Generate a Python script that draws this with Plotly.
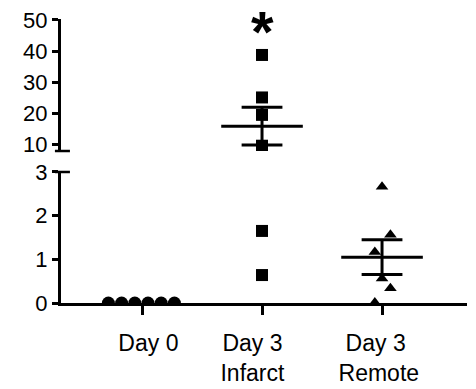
import numpy as np
import plotly.graph_objects as go

NB = "\u00a0"
categories = [NB * 2 + "Day 0",
              "Day 3" + NB * 3 + "<br>Infarct" + NB * 3,
              "Day 3" + NB * 2 + "<br>Remote" + NB]
day0_values = [0, 0, 0, 0, 0, 0]
infarct_values = [38.75, 25.1, 19.5, 9.6, 1.65, 0.64]
remote_values = [2.66, 1.56, 1.17, 0.56, 0.34, 0.01]
top_ticks = [10, 20, 30, 40, 50]
bottom_ticks = [0, 1, 2, 3]

# horizontal jitter (category units) used for point placement
day0_jitter = [-0.28, -0.17, -0.06, 0.05, 0.16, 0.27]
infarct_jitter = [0, 0, 0, 0, 0, 0]
remote_jitter = [0, 0.07, -0.06, 0, 0.07, -0.06]

BREAK = 3  # values above this go on the upper segment
FONT = "Liberation Sans, Arial, sans-serif"
MEAN_HALF = 0.34
CAP_HALF = 0.17

fig = go.Figure()


def add_points(idx, vals, jit, symbol, size):
    vals = np.asarray(vals, float)
    xs = idx + np.asarray(jit, float)
    low = vals <= BREAK
    hi = ~low
    if low.any():
        fig.add_trace(go.Scatter(x=xs[low], y=vals[low], mode="markers", yaxis="y",
                                 marker=dict(symbol=symbol, size=size, color="black"),
                                 cliponaxis=True, showlegend=False, hoverinfo="skip"))
    if hi.any():
        fig.add_trace(go.Scatter(x=xs[hi], y=vals[hi], mode="markers", yaxis="y2",
                                 marker=dict(symbol=symbol, size=size, color="black"),
                                 cliponaxis=True, showlegend=False, hoverinfo="skip"))


def add_mean_sem(idx, vals):
    vals = np.asarray(vals, float)
    m = vals.mean()
    sem = vals.std(ddof=1) / np.sqrt(len(vals))
    ax = "y2" if m > BREAK else "y"
    line = dict(color="black", width=3)
    fig.add_trace(go.Scatter(x=[idx - MEAN_HALF, idx + MEAN_HALF], y=[m, m], mode="lines",
                             yaxis=ax, line=line, showlegend=False, hoverinfo="skip"))
    for v in (m - sem, m + sem):
        fig.add_trace(go.Scatter(x=[idx - CAP_HALF, idx + CAP_HALF], y=[v, v], mode="lines",
                                 yaxis=ax, line=line, showlegend=False, hoverinfo="skip"))
    fig.add_trace(go.Scatter(x=[idx, idx], y=[m - sem, m + sem], mode="lines",
                             yaxis=ax, line=line, showlegend=False, hoverinfo="skip"))


add_points(0, day0_values, day0_jitter, "circle", 13)
add_points(1, infarct_values, infarct_jitter, "square", 12)
add_points(2, remote_values, remote_jitter, "triangle-up", 11)
add_mean_sem(1, infarct_values)
add_mean_sem(2, remote_values)

fig.add_annotation(x=1, y=46.4, yref="y2", xref="x", text="<b>*</b>", showarrow=False,
                   font=dict(family=FONT, size=58, color="black"), yanchor="middle")

axis_common = dict(showgrid=False, zeroline=False, showline=True, linecolor="black",
                   linewidth=3, ticks="outside", tickcolor="black", tickwidth=2.5,
                   ticklen=6, automargin=False,
                   tickfont=dict(family=FONT, size=22, color="black"))

fig.update_layout(
    template="none",
    width=476, height=389,
    margin=dict(l=61, r=9, t=19, b=86),
    plot_bgcolor="white", paper_bgcolor="white",
    xaxis=dict(range=[-0.675, 2.708], tickvals=[0, 1, 2], ticktext=categories,
               anchor="y", ticklabelstandoff=8,
               **{**axis_common, "ticklen": 9,
                  "tickfont": dict(family=FONT, size=23, color="black")}),
    yaxis=dict(range=[0, 3], domain=[0, 0.4613], tickvals=bottom_ticks, anchor="x",
               **axis_common),
    yaxis2=dict(range=[7.9, 50.3], domain=[0.5352, 1], tickvals=top_ticks, anchor="x",
                **axis_common),
)

# axis break marks
for yref, yv in (("y domain", 1), ("y2 domain", 0)):
    fig.add_shape(type="line", xref="x domain", yref=yref, x0=-0.015, x1=0.022, y0=yv, y1=yv,
                  line=dict(color="black", width=2.5))

fig.write_html("out.html")
